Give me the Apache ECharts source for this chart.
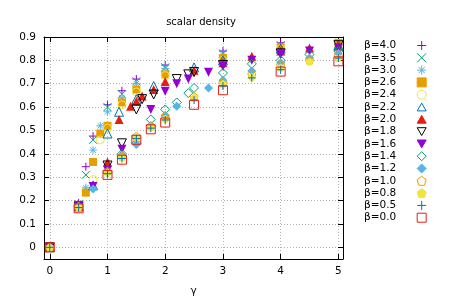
<!DOCTYPE html>
<html><head><meta charset="utf-8">
<script src="https://cdn.jsdelivr.net/npm/echarts@6/dist/echarts.min.js"></script>
<style>html,body{margin:0;padding:0;background:#fff}#c{width:451px;height:300px}</style>
</head><body><div id="c"></div>
<script>
const titleText = 'scalar density';
const xName = 'γ';
const xTickValues = [0, 1, 2, 3, 4, 5];
const yTickValues = [0, 0.1, 0.2, 0.3, 0.4, 0.5, 0.6, 0.7, 0.8, 0.9];
const seriesNames = ['β=4.0','β=3.5','β=3.0','β=2.6','β=2.4','β=2.2','β=2.0','β=1.8','β=1.6','β=1.4','β=1.2','β=1.0','β=0.8','β=0.5','β=0.0'];

const g40 = [0,0.5,0.625,0.75,1,1.25,1.5,2,3,4,5];
const v40 = [0,0.19,0.345,0.476,0.61,0.67,0.72,0.78,0.84,0.875,0.865];
const g35 = [0,0.5,0.625,0.75,1,1.25,1.5,2,3,4,5];
const v35 = [0,0.185,0.31,0.46,0.60,0.655,0.71,0.77,0.83,0.865,0.86];
const g30 = [0,0.5,0.625,0.75,0.875,1,1.25,1.5,2,3,4,5];
const v30 = [0,0.18,0.255,0.416,0.52,0.58,0.64,0.70,0.765,0.825,0.855,0.855];
const g26 = [0,0.5,0.625,0.75,0.875,1,1.25,1.5,2,3,4,5];
const v26 = [0,0.18,0.234,0.365,0.487,0.52,0.62,0.675,0.74,0.81,0.853,0.875];
const g24 = [0,0.5,0.75,0.875,1,1.25,1.5,2,3,4,5];
const v24 = [0,0.175,0.29,0.46,0.51,0.61,0.665,0.735,0.80,0.85,0.87];
const g22 = [0,0.5,0.75,1,1.2,1.5,1.8,2.5,3,4,5];
const v22 = [0,0.175,0.265,0.487,0.58,0.634,0.69,0.77,0.80,0.85,0.865];
const g20 = [0,0.5,1,1.2,1.4,1.5,1.6,1.8,2,2.5,3,3.5,4,4.5,5];
const v20 = [0,0.175,0.365,0.547,0.604,0.625,0.647,0.675,0.71,0.758,0.79,0.818,0.84,0.853,0.86];
const g18 = [0,0.5,1,1.25,1.5,1.6,1.8,2.2,2.4,2.5,3,4,5];
const v18 = [0,0.175,0.35,0.445,0.59,0.634,0.654,0.72,0.74,0.75,0.78,0.83,0.865];
const g16 = [0,0.5,0.75,1,1.25,1.5,1.75,2,2.2,2.4,2.75,3,3.5,4,4.5,5];
const v16 = [0,0.175,0.26,0.33,0.42,0.454,0.59,0.668,0.70,0.72,0.749,0.775,0.80,0.825,0.84,0.853];
const g14 = [0,0.5,1,1.25,1.5,1.75,2,2.2,2.4,2.5,3,3.5,4,4.5,5];
const v14 = [0,0.175,0.32,0.40,0.445,0.547,0.59,0.62,0.66,0.682,0.746,0.785,0.80,0.825,0.84];
const g12 = [0,0.5,0.75,1,1.25,1.5,1.75,2,2.2,2.75,3,3.5,4,4.5,5];
const v12 = [0,0.175,0.25,0.32,0.395,0.44,0.52,0.565,0.604,0.682,0.715,0.754,0.79,0.81,0.83];
const g10 = [0,0.5,1,1.25,1.5,1.75,2,2.5,3,3.5,4,4.5,5];
const v10 = [0,0.175,0.325,0.39,0.475,0.52,0.56,0.645,0.705,0.74,0.78,0.80,0.82];
const g08 = [0,0.5,1,1.25,1.5,1.75,2,2.5,3,3.5,4,4.5,5];
const v08 = [0,0.172,0.32,0.385,0.47,0.515,0.55,0.64,0.70,0.73,0.77,0.795,0.81];
const g05 = [0,0.5,1,1.25,1.5,1.75,2,2.5,3,3.5,4,5];
const v05 = [0,0.17,0.315,0.38,0.465,0.51,0.545,0.63,0.69,0.725,0.76,0.81];
const g00 = [0,0.5,1,1.25,1.5,1.75,2,2.5,3,4,5];
const v00 = [0,0.167,0.31,0.375,0.46,0.505,0.534,0.61,0.672,0.752,0.796];

const SYM = {
  plus: 'path://M0,5L10,5M5,0L5,10',
  cross: 'path://M0,0L10,10M10,0L0,10',
  star: 'path://M0,5L10,5M5,0L5,10M1.5,1.5L8.5,8.5M8.5,1.5L1.5,8.5',
  square: 'path://M0,0L10,0L10,10L0,10Z',
  circle: 'circle',
  tri: 'path://M5,0L10,8.66L0,8.66Z',
  dtri: 'path://M0,0L10,0L5,8.66Z',
  diamond: 'path://M5,0L10,5L5,10L0,5Z',
  pent: 'path://M5,0L10,3.8L8.1,10L1.9,10L0,3.8Z'
};
const styles = [
  ['plus','#9400d3',false,8],
  ['cross','#009e73',false,8],
  ['star','#56b4e9',false,8],
  ['square','#e69f00',true,8],
  ['circle','#f0e442',false,8],
  ['tri','#0072b2',false,9],
  ['tri','#e51e10',true,9],
  ['dtri','#000000',false,9],
  ['dtri','#9400d3',true,9],
  ['diamond','#009e73',false,9],
  ['diamond','#56b4e9',true,9],
  ['pent','#e69f00',false,8],
  ['pent','#f0e442',true,8],
  ['plus','#0072b2',false,8],
  ['square','#e51e10',false,9]
];
const gs = [g40,g35,g30,g26,g24,g22,g20,g18,g16,g14,g12,g10,g08,g05,g00];
const vs = [v40,v35,v30,v26,v24,v22,v20,v18,v16,v14,v12,v10,v08,v05,v00];

const series = seriesNames.map((n, i) => {
  const [s, c, filled, size] = styles[i];
  return {
    type: 'scatter', name: n, xAxisIndex: 0, yAxisIndex: 0,
    data: gs[i].map((x, k) => [x, vs[i][k]]),
    symbol: SYM[s], symbolSize: size,
    itemStyle: filled ? {color: c, borderColor: c, borderWidth: 0, opacity: 1}
                      : {color: 'rgba(0,0,0,0)', borderColor: c, borderWidth: 1, opacity: 1},
    emphasis: {disabled: true}, animation: false
  };
});

const FONT = 'DejaVu Sans';
const gridLine = {show: true, lineStyle: {color: '#b4b4b4', type: [1, 2], width: 1}};
const chart = echarts.init(document.getElementById('c'), null, {renderer: 'canvas'});
chart.setOption({
  animation: false,
  backgroundColor: '#fff',
  title: {text: titleText, left: 196, top: 12, textAlign: 'center',
    textStyle: {fontFamily: FONT, fontSize: 10, fontWeight: 'normal', color: '#000'}},
  grid: {left: 44, right: 108, top: 37, bottom: 41, show: false, outerBoundsMode: 'none', containLabel: false},
  legend: {
    orient: 'vertical', left: 359, top: 35, align: 'right',
    itemWidth: 9, itemHeight: 9, itemGap: 1.3,
    itemStyle: {borderWidth: 1},
    textStyle: {fontFamily: FONT, fontSize: 10.5, color: '#000', lineHeight: 11, padding: [0, 16, 0, 0]},
    data: seriesNames, selectedMode: false
  },
  xAxis: [{
    type: 'value', min: -0.1, max: 5.08, minInterval: 1, maxInterval: 1, splitNumber: 5,
    name: xName, nameLocation: 'middle', nameGap: 27,
    nameTextStyle: {fontFamily: FONT, fontSize: 10.5, color: '#000'},
    axisLine: {show: true, onZero: false, lineStyle: {color: '#000', width: 1}},
    axisTick: {show: true, inside: true, length: 5, lineStyle: {color: '#000'}},
    axisLabel: {fontFamily: FONT, fontSize: 10.5, color: '#000', margin: 7, showMinLabel: false, showMaxLabel: false,
      formatter: v => xTickValues.includes(Math.round(v*1000)/1000) ? String(Math.round(v)) : ''},
    splitLine: gridLine
  }, {
    type: 'value', position: 'top', min: -0.1, max: 5.08, minInterval: 1, maxInterval: 1, splitNumber: 5,
    axisLine: {show: true, onZero: false, lineStyle: {color: '#000', width: 1}},
    axisTick: {show: true, inside: true, length: 5, lineStyle: {color: '#000'}},
    axisLabel: {show: false}, splitLine: {show: false}
  }],
  yAxis: [{
    type: 'value', min: -0.05, max: 0.9, minInterval: 0.1, maxInterval: 0.1, splitNumber: 9,
    axisLine: {show: true, onZero: false, lineStyle: {color: '#000', width: 1}},
    axisTick: {show: true, inside: true, length: 5, lineStyle: {color: '#000'}},
    axisLabel: {fontFamily: FONT, fontSize: 10.5, color: '#000', margin: 8, showMinLabel: false,
      formatter: v => { const r = Math.round(v*10)/10; return yTickValues.includes(r) && Math.abs(v - r) < 1e-6 ? String(r) : ''; }},
    splitLine: gridLine
  }, {
    type: 'value', position: 'right', min: -0.05, max: 0.9, minInterval: 0.1, maxInterval: 0.1, splitNumber: 9,
    axisLine: {show: true, onZero: false, lineStyle: {color: '#000', width: 1}},
    axisTick: {show: true, inside: true, length: 5, lineStyle: {color: '#000'}},
    axisLabel: {show: false}, splitLine: {show: false}
  }],
  series: series
});
</script>
</body></html>
